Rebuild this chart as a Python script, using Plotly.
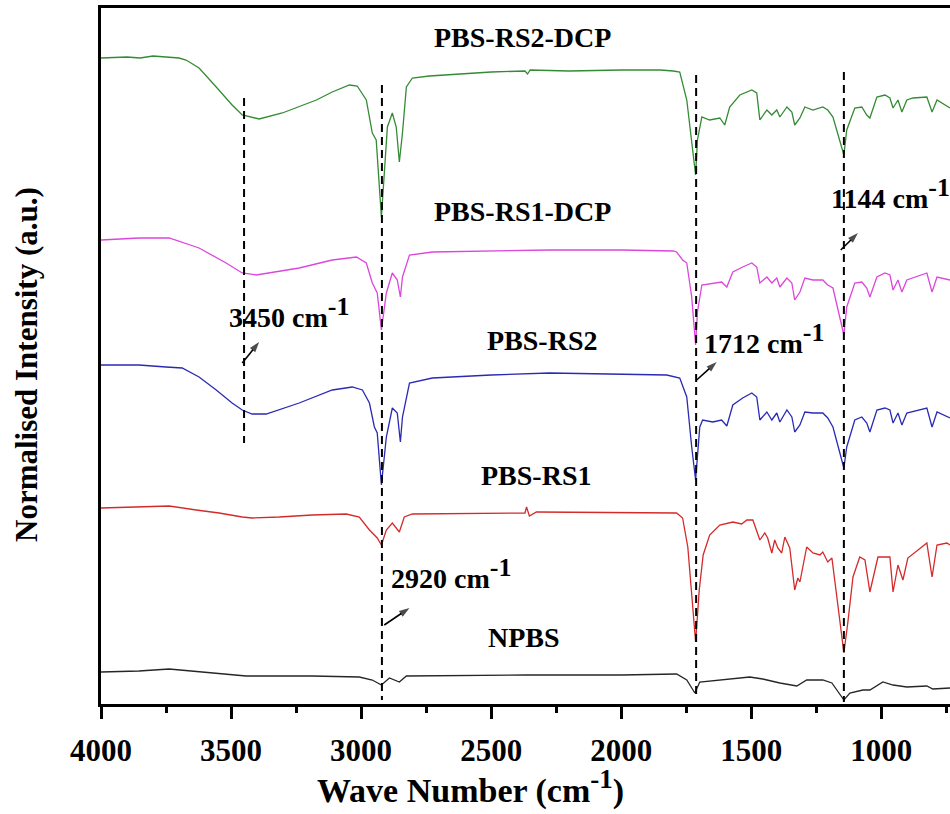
import plotly.graph_objects as go

# ---------------- data (wavenumber in cm-1, normalised intensity in a.u.) ----------------
npbs_wn = [4000, 3854, 3738, 3573, 3442, 3188, 3007, 2957, 2922, 2891, 2853, 2826, 2364, 2000, 1787, 1748,
           1717, 1698, 1583, 1533, 1506, 1456, 1390, 1325, 1287, 1225, 1190, 1144, 1121, 1071, 1044, 994,
           955, 902, 825, 802, 736]
npbs_i = [32, 33, 35, 31, 28, 28, 27, 24, 19, 26, 22, 28, 29, 29, 30, 24,
          11, 22, 25, 26, 27, 25, 21, 18, 24, 24, 21, 4, 11, 14, 14, 22,
          19, 17, 18, 15, 16]

rs1_wn = [4000, 3854, 3738, 3634, 3546, 3457, 3419, 3315, 3188, 3057, 3007, 2968, 2938, 2922, 2903, 2880,
          2853, 2834, 2803, 2370, 2364, 2353, 2326, 1787, 1764, 1744, 1725, 1714, 1700, 1685, 1660, 1621,
          1571, 1537, 1517, 1494, 1467, 1448, 1437, 1421, 1410, 1398, 1383, 1371, 1352, 1333, 1321, 1313,
          1287, 1263, 1236, 1225, 1206, 1190, 1171, 1144, 1129, 1109, 1083, 1063, 1044, 1013, 967, 955,
          936, 917, 898, 825, 805, 786, 748, 736]
rs1_i = [196, 197, 198, 194, 191, 187, 186, 187, 189, 190, 187, 174, 166, 159, 174, 181,
         172, 187, 190, 191, 197, 188, 192, 191, 186, 157, 97, 62, 114, 149, 169, 179,
         182, 180, 184, 184, 164, 171, 166, 151, 164, 156, 151, 167, 156, 114, 126, 122,
         157, 151, 149, 152, 142, 146, 107, 51, 81, 127, 147, 144, 112, 147, 147, 112,
         139, 124, 146, 161, 127, 159, 161, 159]

rs2_wn = [4000, 3854, 3750, 3688, 3623, 3557, 3496, 3457, 3419, 3365, 3238, 3111, 3034, 2995, 2968, 2949,
          2938, 2922, 2903, 2880, 2861, 2849, 2841, 2814, 2726, 2500, 2276, 2000, 1825, 1775, 1748, 1729,
          1714, 1698, 1687, 1648, 1614, 1594, 1571, 1533, 1498, 1479, 1467, 1440, 1421, 1402, 1390, 1363,
          1344, 1333, 1313, 1294, 1263, 1225, 1206, 1186, 1144, 1133, 1102, 1075, 1056, 1044, 1017, 986,
          967, 955, 936, 921, 902, 825, 805, 786, 736]
rs2_i = [339, 339, 337, 336, 327, 314, 301, 294, 290, 290, 301, 314, 317, 314, 301, 277,
         271, 219, 267, 296, 291, 262, 287, 321, 326, 329, 331, 330, 329, 326, 307, 257,
         224, 277, 284, 282, 284, 278, 299, 306, 311, 307, 284, 292, 284, 291, 282, 294,
         287, 272, 279, 292, 291, 291, 286, 277, 236, 257, 284, 287, 281, 272, 294, 296,
         294, 281, 291, 279, 291, 296, 277, 292, 286]

rs1dcp_wn = [4000, 3854, 3738, 3623, 3519, 3457, 3403, 3238, 3111, 3018, 2980, 2957, 2938, 2922, 2903, 2880,
             2861, 2849, 2841, 2814, 2726, 2500, 2276, 2000, 1800, 1787, 1764, 1748, 1729, 1714, 1707, 1690,
             1648, 1614, 1594, 1571, 1533, 1498, 1479, 1467, 1440, 1421, 1402, 1390, 1363, 1344, 1333, 1313,
             1294, 1263, 1225, 1206, 1186, 1144, 1133, 1102, 1075, 1056, 1044, 1017, 986, 967, 955, 936,
             921, 902, 825, 805, 786, 736]
rs1dcp_i = [464, 466, 466, 456, 441, 431, 429, 436, 444, 447, 441, 421, 411, 374, 411, 431,
            424, 407, 427, 449, 452, 453, 454, 454, 453, 452, 444, 441, 407, 359, 392, 419,
            421, 422, 417, 432, 437, 441, 437, 421, 427, 421, 426, 417, 426, 421, 404, 412,
            426, 424, 424, 419, 416, 369, 397, 421, 422, 416, 407, 427, 431, 429, 414, 424,
            412, 424, 431, 412, 427, 424]

rs2dcp_wn = [4000, 3900, 3850, 3800, 3750, 3700, 3673, 3623, 3557, 3496, 3457, 3392, 3303, 3172, 3111, 3045,
             3015, 2980, 2957, 2942, 2922, 2911, 2899, 2880, 2865, 2853, 2841, 2826, 2803, 2738, 2600, 2500,
             2370, 2360, 2350, 2200, 2000, 1850, 1800, 1775, 1748, 1729, 1714, 1707, 1690, 1660, 1621, 1602,
             1583, 1544, 1498, 1479, 1467, 1440, 1421, 1402, 1390, 1363, 1344, 1333, 1313, 1294, 1263, 1225,
             1206, 1186, 1144, 1133, 1102, 1075, 1056, 1044, 1017, 986, 967, 955, 936, 921, 902, 878,
             825, 805, 786, 736]
rs2dcp_i = [646, 647, 646, 648, 647, 646, 644, 636, 617, 599, 589, 585, 591, 604, 612, 619,
            618, 604, 571, 564, 487, 527, 577, 591, 577, 542, 571, 617, 626, 628, 630, 632,
            633, 630, 634, 633, 634, 634, 633, 632, 604, 564, 529, 564, 587, 584, 586, 579,
            597, 609, 614, 611, 584, 594, 589, 594, 587, 597, 592, 579, 586, 597, 594, 597,
            594, 587, 549, 574, 596, 597, 589, 586, 607, 609, 606, 596, 604, 592, 604, 606,
            607, 592, 604, 596]

series_names = ["NPBS", "PBS-RS1", "PBS-RS2", "PBS-RS1-DCP", "PBS-RS2-DCP"]
series_colors = ["#262626", "#d42a2a", "#2a2ab4", "#dc46dc", "#338c33"]

# peak marker lines: wavenumber, top, bottom
peak_wn = [3450, 2920, 1712, 1144]
peak_top = [606, 619, 629, 632]
peak_bottom = [261, 4, 7, 2]

# peak labels: text anchor (left) and arrow (tail -> head)
peak_label_wn = [3515, 2891, 1690, 1202]
peak_label_i = [392, 131, 366, 511]
arrow_tail_wn = [3457, 2911, 1710, 1156]
arrow_tail_i = [341, 79, 324, 454]
arrow_head_wn = [3392, 2814, 1633, 1090]
arrow_head_i = [362, 96, 342, 471]

# sample labels (centre)
label_wn = [2372, 2326, 2303, 2380, 2380]
label_i = [67, 229, 364, 493, 667]

x_ticks = [4000, 3500, 3000, 2500, 2000, 1500, 1000]
x_minor = [3750, 3250, 2750, 2250, 1750, 1250, 750]
x_range = [4000, 736]
y_range = [0, 696]

FONT = "Liberation Serif"
SUP = '<sup><span style="font-size:{}px">-1</span></sup>'

fig = go.Figure()

all_wn = [npbs_wn, rs1_wn, rs2_wn, rs1dcp_wn, rs2dcp_wn]
all_i = [npbs_i, rs1_i, rs2_i, rs1dcp_i, rs2dcp_i]
for name, col, xs, ys in zip(series_names, series_colors, all_wn, all_i):
    fig.add_trace(go.Scatter(x=xs, y=ys, mode="lines", name=name,
                             line=dict(color=col, width=1.3), showlegend=False))

for w, t, b in zip(peak_wn, peak_top, peak_bottom):
    fig.add_trace(go.Scatter(x=[w, w], y=[t, b], mode="lines", showlegend=False,
                             line=dict(color="black", width=2, dash="8px,5px"), hoverinfo="skip"))

for k in range(len(peak_wn)):
    fig.add_trace(go.Scatter(x=[arrow_tail_wn[k], arrow_head_wn[k]], y=[arrow_tail_i[k], arrow_head_i[k]],
                             mode="lines+markers", showlegend=False, hoverinfo="skip",
                             line=dict(color="black", width=1.6),
                             marker=dict(symbol="arrow", size=[0, 11], angleref="previous",
                                         color="black", line=dict(width=0))))

for k, w in enumerate(peak_wn):
    fig.add_annotation(x=peak_label_wn[k], y=peak_label_i[k], xref="x", yref="y",
                       text=f"{w} cm" + SUP.format(26), showarrow=False,
                       xanchor="left", yanchor="middle",
                       font=dict(family=FONT, size=28, color="black", weight="bold"))

for name, w, v in zip(series_names, label_wn, label_i):
    fig.add_annotation(x=w, y=v, xref="x", yref="y", text=name, showarrow=False,
                       xanchor="center", yanchor="middle",
                       font=dict(family=FONT, size=28, color="black", weight="bold"))

# axis titles
fig.add_annotation(x=(470 - 101) / 849, y=-(812 - 704) / 696, xref="paper", yref="paper",
                   text="Wave Number (cm" + SUP.format(27) + ")", showarrow=False,
                   xanchor="center", yanchor="bottom",
                   font=dict(family=FONT, size=34, color="black", weight="bold"))
fig.add_annotation(x=(26 - 101) / 849, y=(704 - 365) / 696, xref="paper", yref="paper",
                   text="Normalised Intensity (a.u.)", showarrow=False, textangle=-90,
                   xanchor="center", yanchor="middle",
                   font=dict(family=FONT, size=31, color="black", weight="bold"))

fig.update_layout(
    width=950, height=814,
    margin=dict(l=101, r=0, t=8, b=110),
    paper_bgcolor="white", plot_bgcolor="white",
    font=dict(family=FONT, color="black"),
)
fig.update_xaxes(range=x_range, showgrid=False, zeroline=False,
                 showline=True, linecolor="black", linewidth=2.5, mirror=True,
                 ticks="outside", ticklen=12, tickwidth=2.5, tickcolor="black",
                 tickvals=x_ticks, ticklabelstandoff=5,
                 tickfont=dict(family=FONT, size=31, color="black", weight="bold"),
                 minor=dict(tickvals=x_minor, ticks="outside", ticklen=6, tickwidth=2.5, tickcolor="black"))
fig.update_yaxes(range=y_range, showgrid=False, zeroline=False,
                 showline=True, linecolor="black", linewidth=2.5, mirror=False,
                 ticks="", showticklabels=False)

fig.write_html("out.html")
